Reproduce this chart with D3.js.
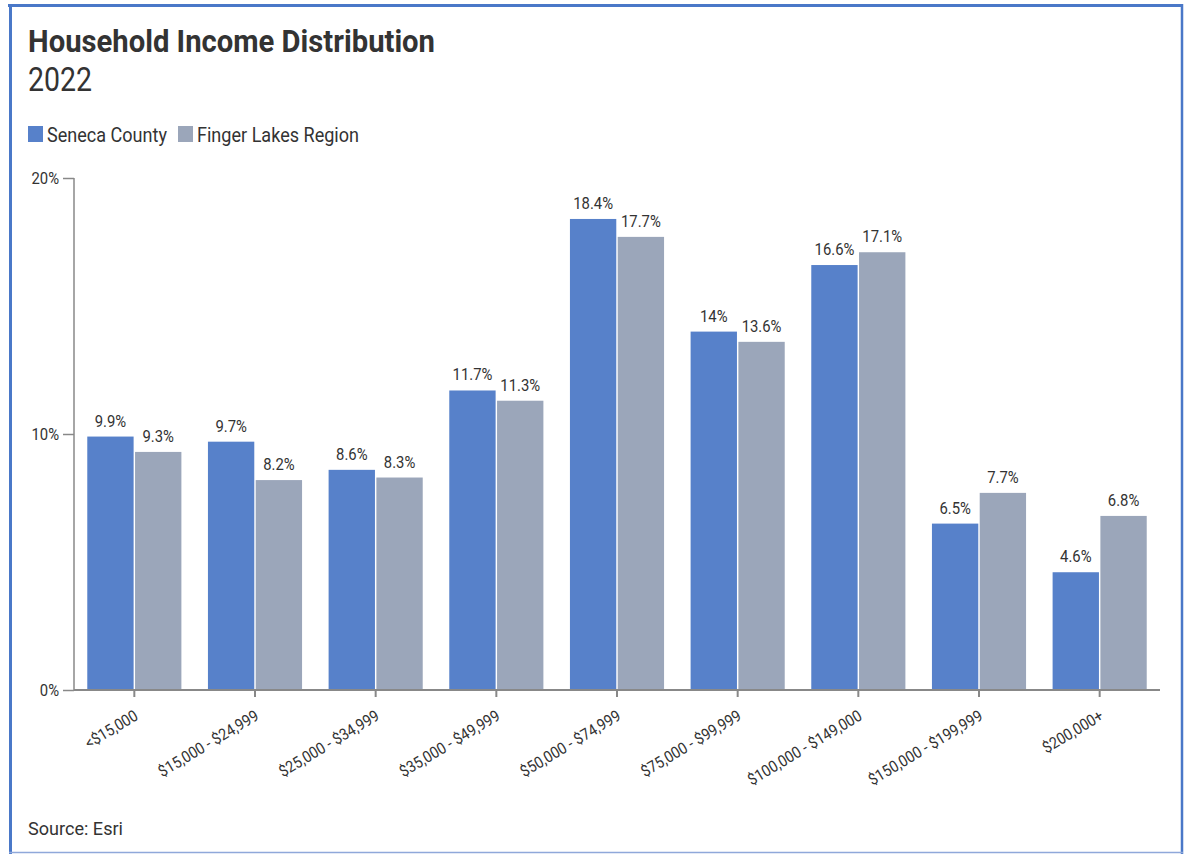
<!DOCTYPE html>
<html>
<head>
<meta charset="utf-8">
<script src="https://cdn.jsdelivr.net/npm/d3@7"></script>
<style>
  html, body { margin: 0; padding: 0; background: #fff; }
  svg { display: block; font-family: Roboto, "Noto Sans", sans-serif; }
</style>
</head>
<body>
<svg id="chart" width="1184" height="854"></svg>
<script>
// Household income brackets and shares (%) for 2022
const categories = ["<$15,000", "$15,000 - $24,999", "$25,000 - $34,999", "$35,000 - $49,999",
  "$50,000 - $74,999", "$75,000 - $99,999", "$100,000 - $149,000", "$150,000 - $199,999", "$200,000+"];
const senecaCounty = [9.9, 9.7, 8.6, 11.7, 18.4, 14, 16.6, 6.5, 4.6];
const fingerLakes = [9.3, 8.2, 8.3, 11.3, 17.7, 13.6, 17.1, 7.7, 6.8];
const seriesNames = ["Seneca County", "Finger Lakes Region"];
const yTicks = [0, 10, 20];

const colors = ["#5781CA", "#9BA6BA"];
const textColor = "#333333";
const CONDENSE = 0.9; // narrower glyphs, close to a condensed face

const svg = d3.select("#chart");

// Frame
svg.append("line").attr("x1", 8).attr("x2", 1183).attr("y1", 5.5).attr("y2", 5.5)
  .attr("stroke", "#4A78C8").attr("stroke-width", 3);
svg.append("line").attr("x1", 10.5).attr("x2", 10.5).attr("y1", 4).attr("y2", 854)
  .attr("stroke", "#4A78C8").attr("stroke-width", 3);
svg.append("line").attr("x1", 1182).attr("x2", 1182).attr("y1", 4).attr("y2", 854)
  .attr("stroke", "#4A78C8").attr("stroke-width", 2.5);
svg.append("line").attr("x1", 9).attr("x2", 1183).attr("y1", 852.5).attr("y2", 852.5)
  .attr("stroke", "#8FA8DA").attr("stroke-width", 1.5);

// Titles
svg.append("text").attr("x", 28).attr("y", 52)
  .attr("font-size", 31).attr("font-weight", 700).attr("fill", textColor)
  .attr("textLength", 407).attr("lengthAdjust", "spacingAndGlyphs")
  .text("Household Income Distribution");
svg.append("text").attr("x", 28).attr("y", 91)
  .attr("font-size", 34).attr("fill", textColor)
  .attr("textLength", 64).attr("lengthAdjust", "spacingAndGlyphs")
  .text("2022");

// Legend
const legendX = [28, 178];
const legendLen = [120, 162];
seriesNames.forEach((name, i) => {
  svg.append("rect").attr("x", legendX[i]).attr("y", 126).attr("width", 15).attr("height", 16)
    .attr("fill", colors[i]);
  svg.append("text").attr("x", legendX[i] + 19).attr("y", 142)
    .attr("font-size", 20).attr("fill", textColor)
    .attr("textLength", legendLen[i]).attr("lengthAdjust", "spacingAndGlyphs")
    .text(name);
});

// Scales
const margin = { left: 74, right: 1160, top: 178, bottom: 690 };
const x0 = d3.scaleBand().domain(categories).range([margin.left, margin.right])
  .paddingInner(0.22).paddingOuter(0.11);
const x1 = d3.scaleBand().domain([0, 1]).range([0, x0.bandwidth()]).paddingInner(0.03);
const y = d3.scaleLinear().domain([0, 20]).range([margin.bottom, margin.top]);

// Bars
const data = categories.map((c, i) => ({ cat: c, vals: [senecaCounty[i], fingerLakes[i]] }));
const groups = svg.append("g").selectAll("g").data(data).join("g")
  .attr("transform", d => `translate(${x0(d.cat)},0)`);
groups.selectAll("rect").data(d => d.vals.map((v, k) => ({ v, k }))).join("rect")
  .attr("x", d => x1(d.k))
  .attr("y", d => y(d.v))
  .attr("width", x1.bandwidth())
  .attr("height", d => y(0) - y(d.v))
  .attr("fill", d => colors[d.k]);
groups.selectAll("text").data(d => d.vals.map((v, k) => ({ v, k }))).join("text")
  .attr("transform", d => `translate(${x1(d.k) + x1.bandwidth() / 2},${y(d.v) - 10}) scale(${CONDENSE},1)`)
  .attr("text-anchor", "middle")
  .attr("font-size", 16.5).attr("fill", textColor)
  .text(d => d.v + "%");

// Y axis
const yAxis = svg.append("g").attr("transform", `translate(${margin.left},0)`)
  .call(d3.axisLeft(y).tickValues(yTicks).tickFormat(d => d + "%").tickSize(11).tickPadding(4));
yAxis.select(".domain").attr("stroke", "#888").attr("stroke-width", 1.5)
  .attr("d", `M0,${margin.top}V${margin.bottom}`);
yAxis.selectAll(".tick line").attr("stroke", "#888").attr("stroke-width", 1.5);
yAxis.selectAll(".tick text").attr("font-size", 16.5).attr("fill", textColor)
  .attr("font-family", "Roboto, sans-serif")
  .attr("transform", `translate(-1.5,0) scale(${CONDENSE},1)`);

// X axis
const xAxis = svg.append("g").attr("transform", `translate(0,${margin.bottom})`)
  .call(d3.axisBottom(x0).tickSize(7).tickPadding(6));
xAxis.select(".domain").attr("stroke", "#888").attr("stroke-width", 2)
  .attr("d", `M${margin.left},0H${margin.right}`);
xAxis.selectAll(".tick line").attr("stroke", "#888").attr("stroke-width", 2);
xAxis.selectAll(".tick text")
  .attr("font-size", 16).attr("fill", textColor).attr("font-family", "Roboto, sans-serif")
  .attr("text-anchor", "end")
  .attr("x", 0).attr("y", 0)
  .attr("dy", "0.35em")
  .attr("transform", `translate(2,24) rotate(-31) scale(${CONDENSE},1)`);

// Source
svg.append("text").attr("x", 28).attr("y", 835)
  .attr("font-size", 18).attr("fill", textColor)
  .attr("textLength", 95).attr("lengthAdjust", "spacingAndGlyphs")
  .text("Source: Esri");
</script>
</body>
</html>
